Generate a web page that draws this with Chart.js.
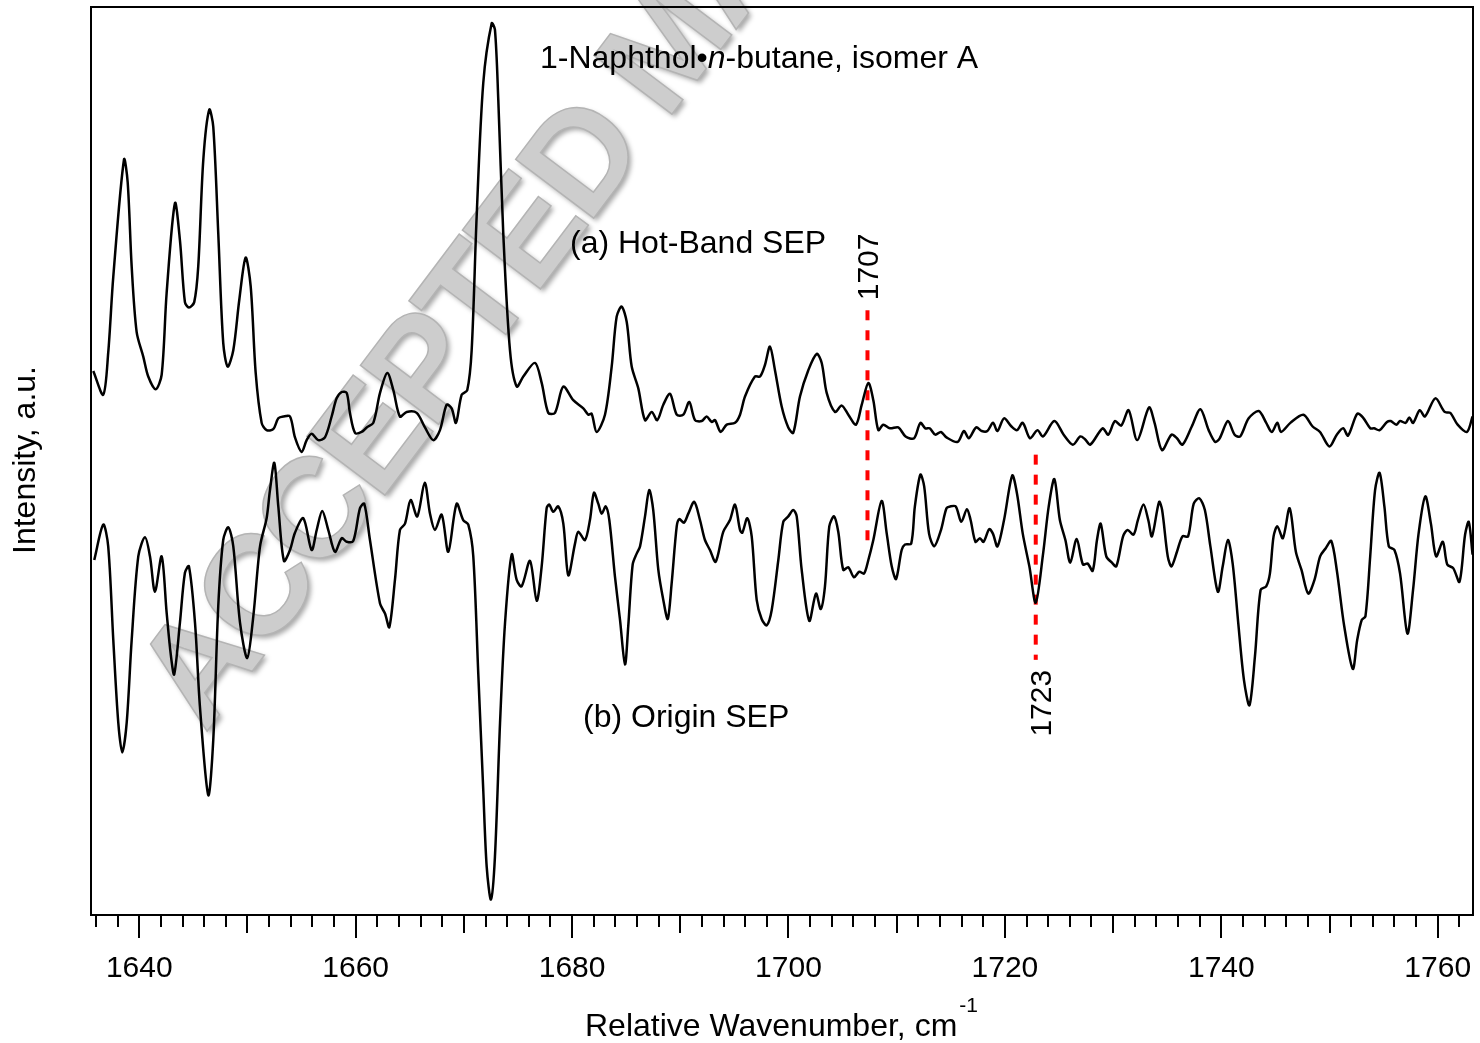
<!DOCTYPE html>
<html>
<head>
<meta charset="utf-8">
<title>1-Naphthol n-butane SEP spectra</title>
<script src="https://cdn.jsdelivr.net/npm/chart.js@4.4.1/dist/chart.umd.min.js"></script>
<style>
  html, body { margin: 0; padding: 0; background: #fff; }
</style>
</head>
<body>
<canvas id="sepChart" width="1480" height="1043"></canvas>
<script>
// Wavenumber axis (cm-1) and labelled ticks
const xMin = 1635.54;
const xMax = 1763.26;
const tickLabels = [1640, 1660, 1680, 1700, 1720, 1740, 1760];

// (a) Hot-band SEP trace, intensity in arbitrary units (offset as plotted)
const hotBandX = [1635.75,1636.67,1637.13,1637.60,1638.59,1638.93,1639.30,1639.76,1640.37,1640.83,1641.52,1642.07,1642.53,1643.30,1643.76,1644.22,1644.59,1645.08,1645.45,1645.92,1646.47,1646.84,1647.30,1647.76,1648.17,1648.69,1649.24,1649.83,1650.30,1650.76,1651.31,1651.77,1652.38,1652.85,1653.31,1653.93,1654.39,1655.01,1655.47,1655.93,1656.54,1657.16,1657.78,1658.24,1658.71,1659.17,1659.47,1659.94,1660.55,1661.02,1661.63,1662.25,1662.92,1663.48,1664.09,1664.71,1665.64,1666.40,1667.17,1667.79,1668.41,1668.87,1669.27,1669.80,1670.31,1670.72,1671.18,1671.79,1672.57,1672.87,1673.18,1673.64,1674.26,1674.88,1675.49,1676.57,1677.19,1677.80,1678.42,1679.19,1680.11,1681.04,1681.50,1681.81,1682.27,1683.04,1683.66,1684.12,1684.58,1685.05,1685.51,1686.12,1686.74,1687.36,1687.87,1688.43,1689.05,1689.67,1690.28,1690.83,1691.36,1691.98,1692.44,1692.90,1693.21,1693.73,1694.29,1695.06,1695.52,1695.98,1696.90,1697.37,1697.83,1698.29,1698.75,1699.37,1699.98,1700.44,1701.06,1701.83,1702.61,1703.07,1703.53,1704.30,1704.92,1705.53,1706.24,1706.77,1707.38,1707.84,1708.30,1708.76,1709.38,1710.15,1710.82,1711.60,1712.19,1712.64,1713.05,1713.57,1714.09,1714.60,1715.63,1716.22,1716.66,1717.35,1717.86,1718.38,1718.90,1719.31,1719.92,1720.61,1721.12,1721.65,1722.32,1723.01,1723.52,1724.57,1725.43,1726.28,1726.97,1727.40,1727.89,1729.03,1729.55,1730.17,1730.75,1731.43,1732.23,1733.32,1733.83,1734.52,1735.39,1735.90,1736.41,1737.27,1738.07,1738.83,1739.44,1739.85,1740.61,1741.23,1741.74,1742.53,1743.46,1744.15,1744.66,1745.18,1745.52,1746.38,1747.58,1748.44,1749.12,1749.99,1750.67,1751.26,1751.71,1752.56,1753.08,1753.77,1754.11,1754.63,1755.31,1755.66,1756.17,1756.52,1757.03,1757.38,1757.72,1758.34,1758.82,1759.78,1760.64,1761.16,1761.84,1762.70,1763.22];
const hotBand = [59.9,57.3,61.9,70.3,83.2,80.7,71.4,64.2,61.5,59.3,57.9,59.5,68.5,78.4,74.3,67.5,66.9,67.5,71.4,83.2,88.7,86.8,75.1,63.0,60.4,62.2,67.7,72.4,69.2,59.7,54.2,53.4,53.5,54.7,54.9,54.9,52.6,51.0,52.3,53.0,52.3,52.6,54.9,56.9,57.6,57.5,55.3,53.1,53.2,53.7,54.2,57.5,59.7,57.8,54.9,55.4,55.3,53.7,52.3,53.4,56.2,55.8,54.2,57.3,57.8,62.2,76.9,91.6,98.2,97.5,89.8,75.1,62.2,58.2,59.3,60.8,58.6,55.3,55.3,58.2,56.7,55.8,55.1,55.2,53.2,55.1,60.4,65.9,67.0,65.3,60.4,58.0,54.5,55.4,54.5,56.2,57.4,55.1,55.1,56.5,54.5,54.4,54.9,54.3,54.5,53.2,54.0,54.2,55.1,57.1,59.3,59.3,60.6,62.6,60.0,56.0,53.7,53.1,57.1,60.0,61.8,60.8,57.5,55.4,56.1,55.1,54.0,56.2,58.6,56.7,53.4,54.0,53.6,53.7,52.7,52.5,54.2,53.6,53.6,52.9,53.2,52.6,52.1,53.3,52.5,53.7,53.3,53.3,54.2,53.3,54.7,53.8,53.4,54.2,52.5,53.4,52.7,54.4,52.9,51.8,52.7,52.4,51.8,53.6,52.9,54.4,53.9,55.6,52.3,55.9,54.2,51.2,52.9,52.5,51.8,53.8,55.7,53.4,52.1,52.5,54.4,52.9,52.7,54.7,55.5,54.2,53.2,54.2,53.2,54.2,55.1,53.8,53.2,51.6,52.9,53.6,52.8,55.2,54.8,53.6,53.6,53.4,54.3,54.4,54.0,54.4,54.2,54.8,54.2,55.6,54.9,56.9,55.4,55.3,54.0,53.2,54.9];

// (b) Origin SEP trace
const originX = [1635.84,1636.67,1637.13,1637.60,1638.06,1638.43,1638.84,1639.30,1639.91,1640.53,1640.99,1641.45,1642.07,1642.53,1642.93,1643.23,1643.76,1644.22,1644.59,1645.15,1645.61,1646.38,1646.84,1647.30,1647.76,1648.23,1648.69,1649.31,1649.98,1650.54,1651.16,1651.77,1652.08,1652.48,1652.85,1653.37,1653.93,1654.39,1655.16,1655.93,1656.40,1656.91,1657.47,1658.09,1658.71,1659.17,1659.78,1660.40,1660.79,1661.32,1662.25,1662.71,1663.11,1663.63,1664.09,1664.56,1665.08,1665.69,1666.38,1666.87,1667.33,1667.95,1668.56,1669.33,1669.94,1670.41,1670.87,1671.33,1671.79,1672.11,1672.50,1672.87,1673.34,1673.80,1674.42,1674.88,1675.34,1676.11,1676.73,1677.19,1677.65,1677.89,1678.26,1678.72,1679.19,1679.65,1680.27,1680.57,1681.19,1681.65,1682.02,1682.42,1682.74,1683.11,1683.44,1683.96,1684.43,1684.89,1685.19,1685.60,1685.97,1686.28,1686.74,1687.13,1687.50,1687.97,1688.43,1688.84,1689.20,1689.67,1689.91,1690.34,1690.74,1691.29,1691.82,1692.28,1692.74,1693.27,1693.97,1694.59,1695.06,1695.52,1695.73,1696.19,1696.60,1697.06,1697.52,1697.99,1698.45,1699.06,1699.52,1699.98,1700.44,1700.76,1701.22,1701.92,1702.54,1702.98,1703.37,1703.77,1704.21,1704.60,1705.06,1705.53,1706.05,1706.54,1706.98,1707.38,1707.84,1708.61,1709.08,1709.54,1709.94,1710.46,1710.77,1711.34,1711.68,1712.19,1712.54,1712.99,1713.47,1714.09,1714.60,1714.94,1715.46,1715.97,1716.49,1716.83,1717.28,1717.69,1718.03,1718.55,1718.89,1719.31,1719.92,1720.68,1721.12,1721.65,1722.26,1722.85,1723.53,1724.05,1724.57,1725.08,1725.59,1726.04,1726.63,1727.21,1727.65,1728.11,1728.51,1728.85,1729.37,1729.89,1730.30,1730.92,1731.33,1731.89,1732.29,1732.81,1733.25,1733.59,1734.25,1734.53,1735.05,1735.39,1735.90,1736.41,1736.93,1737.45,1737.97,1738.48,1738.99,1739.68,1740.13,1740.61,1741.05,1741.57,1742.09,1742.60,1743.11,1743.63,1744.15,1744.49,1744.83,1745.18,1745.69,1746.31,1746.89,1747.41,1748.03,1748.61,1749.13,1749.65,1750.16,1750.67,1751.36,1752.15,1752.56,1752.98,1753.32,1753.76,1754.21,1754.63,1755.07,1755.48,1756.00,1756.52,1757.20,1757.72,1758.23,1758.85,1759.37,1759.85,1760.47,1760.88,1761.43,1762.01,1762.53,1762.87,1763.22];
const origin = [39.1,43.0,40.6,30.3,21.2,17.9,21.2,30.3,39.5,41.6,39.5,35.6,39.5,33.3,28.5,26.5,32.2,37.7,38.4,32.2,22.9,13.2,19.3,34.0,41.3,42.7,40.6,32.2,28.3,32.9,40.6,43.7,46.8,49.8,45.0,39.0,40.2,42.1,43.7,40.2,42.4,44.5,42.4,40.0,41.5,41.1,41.2,44.8,45.3,41.3,34.3,33.2,31.7,36.9,42.4,43.1,45.7,43.9,47.6,44.2,42.4,44.1,40.0,45.3,43.5,43.0,39.5,26.6,13.8,5.3,1.7,6.4,21.1,32.1,39.7,36.9,36.2,39.0,34.6,38.4,44.8,45.2,44.4,45.0,43.1,37.4,40.9,42.2,41.3,43.5,46.5,45.3,44.2,45.0,43.5,37.3,32.5,27.6,31.8,38.6,39.8,40.6,43.9,46.8,44.6,38.0,34.7,32.6,36.5,42.8,43.6,43.2,44.2,45.5,43.5,41.3,40.2,38.9,42.2,43.5,45.2,42.4,42.1,43.7,41.7,34.7,32.6,31.9,33.6,39.1,43.3,43.9,44.6,43.9,38.0,32.4,35.4,33.7,36.2,42.8,43.9,42.2,38.0,38.3,37.2,37.8,37.6,39.1,41.3,45.6,42.0,38.4,37.0,40.2,40.8,40.9,45.0,48.5,47.2,42.0,40.6,42.4,44.8,45.0,45.0,43.3,44.7,43.5,41.1,41.5,41.1,42.5,42.0,40.6,43.5,48.4,46.4,42.0,38.4,34.4,39.8,45.0,48.0,43.5,41.3,38.8,41.4,38.6,38.7,37.9,41.3,43.1,39.5,38.8,38.4,41.7,42.4,41.9,43.5,45.2,43.5,41.7,45.5,44.6,39.5,38.4,40.0,41.7,41.7,45.3,45.9,44.6,40.6,35.6,38.4,41.3,38.7,32.1,25.9,23.1,28.5,35.8,36.2,37.6,41.7,42.8,41.5,44.8,40.0,38.0,35.4,36.9,39.5,40.4,41.2,38.0,31.8,27.1,30.3,32.5,32.9,39.5,46.8,48.7,45.0,40.6,40.2,37.6,31.0,35.8,42.0,46.1,43.1,39.5,41.1,38.6,38.2,36.7,41.9,43.3,39.7];

// Red dashed markers: position, vertical extent (a.u.) and label
const markerX = [1707.3, 1722.85];
const markerTop = [66.6, 50.7];
const markerBottom = [40.2, 28.1];
const markerLabels = ['1707', '1723'];

const FONT = '"Liberation Sans", Arial, Helvetica, sans-serif';

function toPoints(xs, ys) {
  return xs.map((x, i) => ({ x: x, y: ys[i] }));
}

// grey "ACCEPTED MANUSCRIPT" stamp behind the traces
function drawWatermark(ctx) {
  const text = 'ACCEPTED MANUSCRIPT';
  ctx.save();
  ctx.translate(205, 734);
  ctx.rotate(-53 * Math.PI / 180);
  ctx.font = 'bold 142px ' + FONT;
  ctx.letterSpacing = '-6px';
  ctx.shadowColor = 'rgba(0,0,0,0.35)';
  ctx.shadowBlur = 5;
  ctx.shadowOffsetX = 3;
  ctx.shadowOffsetY = 3;
  ctx.fillStyle = '#cdcdcd';
  ctx.fillText(text, 0, 0);
  ctx.shadowColor = 'transparent';
  ctx.strokeStyle = '#b4b4b4';
  ctx.lineWidth = 1.5;
  ctx.strokeText(text, 0, 0);
  ctx.restore();
}

function drawRuns(ctx, runs, x, y) {
  runs.forEach(r => {
    ctx.font = r.font;
    ctx.fillText(r.text, x, y + (r.dy || 0));
    x += ctx.measureText(r.text).width + (r.gap || 0);
  });
}

const sepDecor = {
  id: 'sepDecor',
  beforeDatasetsDraw(chart) {
    drawWatermark(chart.ctx);
  },
  afterDatasetsDraw(chart) {
    const { ctx, chartArea: a } = chart;
    const xs = chart.scales.x, ys = chart.scales.y;
    ctx.save();

    // frame
    ctx.strokeStyle = '#000';
    ctx.lineWidth = 2;
    ctx.strokeRect(a.left, a.top, a.right - a.left, a.bottom - a.top);

    // tick marks every 2 cm-1, longer at 10 and 20
    ctx.beginPath();
    for (let v = Math.ceil(xs.min / 2) * 2; v <= xs.max; v += 2) {
      const px = Math.round(xs.getPixelForValue(v));
      const len = v % 20 === 0 ? 23 : (v % 10 === 0 ? 18 : 12);
      ctx.moveTo(px, a.bottom);
      ctx.lineTo(px, a.bottom + len);
    }
    ctx.stroke();

    ctx.fillStyle = '#000';
    ctx.textAlign = 'left';
    ctx.textBaseline = 'alphabetic';
    const f32 = '32px ' + FONT;

    // title and trace labels
    drawRuns(ctx, [
      { text: '1-Naphthol\u2022', font: f32 },
      { text: 'n', font: 'italic 32px ' + FONT },
      { text: '-butane, isomer A', font: f32 }
    ], 540, 68);
    ctx.font = f32;
    ctx.fillText('(a) Hot-Band SEP', 570, 253);
    ctx.fillText('(b) Origin SEP', 583, 727);

    // x axis title with superscript
    drawRuns(ctx, [
      { text: 'Relative Wavenumber, cm', font: f32, gap: 2 },
      { text: '-1', font: '21px ' + FONT, dy: -24 }
    ], 585, 1036);

    // y axis title
    ctx.save();
    ctx.translate(26, 460);
    ctx.rotate(-Math.PI / 2);
    ctx.textAlign = 'center';
    ctx.textBaseline = 'middle';
    ctx.font = f32;
    ctx.fillText('Intensity, a.u.', 0, 0);
    ctx.restore();

    // marker labels (vertical)
    ctx.font = '30px ' + FONT;
    markerLabels.forEach((t, i) => {
      const half = ctx.measureText(t).width / 2;
      const px = xs.getPixelForValue(markerX[i]);
      let cx, cy;
      if (i === 0) {
        cx = px + 2;
        cy = ys.getPixelForValue(markerTop[i]) - 10 - half;
      } else {
        cx = px + 7;
        cy = ys.getPixelForValue(markerBottom[i]) + 10 + half;
      }
      ctx.save();
      ctx.translate(cx, cy);
      ctx.rotate(-Math.PI / 2);
      ctx.textAlign = 'center';
      ctx.textBaseline = 'middle';
      ctx.fillText(t, 0, 0);
      ctx.restore();
    });

    ctx.restore();
  }
};

const traceStyle = { borderColor: '#000', borderWidth: 2.5, pointRadius: 0, tension: 0.3, fill: false };
const markerStyle = { borderColor: '#ff0000', borderWidth: 4, borderDash: [10, 10], pointRadius: 0, tension: 0, fill: false };

new Chart(document.getElementById('sepChart'), {
  type: 'line',
  data: {
    datasets: [
      Object.assign({ label: '(a) Hot-Band SEP', data: toPoints(hotBandX, hotBand) }, traceStyle),
      Object.assign({ label: '(b) Origin SEP', data: toPoints(originX, origin) }, traceStyle),
      Object.assign({ label: markerLabels[0], data: [{ x: markerX[0], y: markerTop[0] }, { x: markerX[0], y: markerBottom[0] }] }, markerStyle),
      Object.assign({ label: markerLabels[1], data: [{ x: markerX[1], y: markerTop[1] }, { x: markerX[1], y: markerBottom[1] }] }, markerStyle)
    ]
  },
  options: {
    responsive: false,
    animation: false,
    events: [],
    layout: { padding: { left: 91, right: 7, top: 7, bottom: 0 } },
    plugins: { legend: { display: false }, tooltip: { enabled: false } },
    scales: {
      x: {
        type: 'linear',
        min: xMin,
        max: xMax,
        bounds: 'data',
        position: 'bottom',
        afterBuildTicks(scale) { scale.ticks = tickLabels.map(v => ({ value: v })); },
        afterFit(scale) {
          scale.height = 128;
          scale.paddingLeft = 0;
          scale.paddingRight = 0;
        },
        grid: { display: false, drawTicks: false },
        border: { display: false },
        ticks: {
          autoSkip: false, maxRotation: 0, minRotation: 0, padding: 36,
          color: '#000', font: { family: FONT, size: 30 },
          callback: v => String(v)
        }
      },
      y: { type: 'linear', min: 0, max: 100, display: false }
    }
  },
  plugins: [sepDecor]
});
</script>
</body>
</html>
